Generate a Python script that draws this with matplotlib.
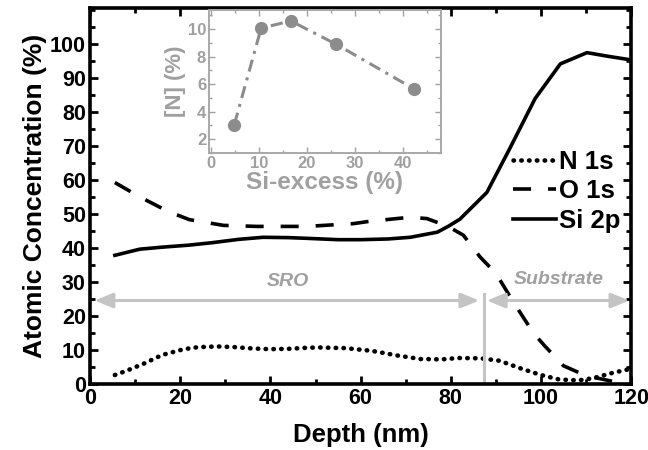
import matplotlib
matplotlib.use("Agg")
import matplotlib.pyplot as plt
from matplotlib.ticker import MultipleLocator

plt.rcParams['font.family'] = ['Liberation Sans', 'DejaVu Sans']
plt.rcParams['font.weight'] = 'bold'

# Main profile data
n_depth = [5.5, 8, 12, 16, 20.8, 24, 28.3, 32, 36, 40, 44, 48, 50.8, 56.7, 62.5, 68.3, 73.3, 78, 81.7, 86.7, 90.8, 95.8, 100, 104, 108.3, 111.7, 115.8, 119.2]
n_conc = [2.6, 3.8, 6.0, 8.5, 10.2, 10.8, 11.0, 10.8, 10.4, 10.2, 10.3, 10.6, 10.7, 10.5, 9.7, 8.3, 7.3, 7.2, 7.6, 7.5, 6.8, 4.4, 2.6, 1.3, 1.0, 1.7, 3.2, 4.2]

o_depth = [5.5, 11, 17.3, 22, 29.6, 37, 48, 58.3, 62, 71, 74.7, 79.4, 82.8, 86.5, 90, 94, 98.3, 100.8, 105, 110, 116]
o_conc = [59.2, 55.0, 50.7, 48.3, 46.6, 46.3, 46.3, 47.1, 47.8, 49.0, 48.6, 46.3, 43.7, 37.3, 32.5, 23.8, 15.0, 11.2, 5.3, 2.4, 0.7]

si_depth = [5.5, 11, 16, 22, 27, 33, 38.4, 44, 48, 55, 60, 66, 71, 77, 79.4, 82, 88, 93, 98.7, 104.3, 110.2, 115, 119.8]
si_conc = [37.8, 39.6, 40.2, 40.8, 41.5, 42.5, 43.1, 43.0, 42.8, 42.4, 42.4, 42.6, 43.1, 44.6, 46.3, 48.4, 56.3, 69.0, 83.9, 94.1, 97.4, 96.3, 95.3]

series_labels = ['N 1s', 'O 1s', 'Si 2p']

# Inset data
si_excess = [4.8, 10.4, 16.6, 26.1, 42.4]
n_percent = [3.07, 10.07, 10.6, 8.9, 5.65]

fig = plt.figure(figsize=(6.48, 4.5), dpi=100)
ax = fig.add_axes([0.139, 0.147, 0.835, 0.835])

ax.plot(n_depth, n_conc, color='black', lw=3.3, linestyle=(0, (0.1, 1.6)), dash_capstyle='round', label=series_labels[0])
ax.plot(o_depth, o_conc, color='black', lw=2.6, linestyle=(0, (5, 4.7)), label=series_labels[1])
ax.plot(si_depth, si_conc, color='black', lw=2.6, label=series_labels[2])

ax.set_xlim(0, 120)
ax.set_ylim(0, 110.5)
ax.set_yticks(range(0, 101, 10))
ax.xaxis.set_major_locator(MultipleLocator(20))
ax.xaxis.set_minor_locator(MultipleLocator(10))
ax.yaxis.set_minor_locator(MultipleLocator(5))
ax.tick_params(which='both', direction='in', top=True, right=True, labelsize=15.5, width=2)
ax.tick_params(which='major', length=6, pad=3)
ax.tick_params(which='minor', length=3.5)
for lbl in ax.get_xticklabels() + ax.get_yticklabels():
    lbl.set_fontweight('bold')
for s in ax.spines.values():
    s.set_linewidth(2.6)
ax.set_xlabel('Depth (nm)', fontsize=18.5, fontweight='bold', labelpad=10)
ax.set_ylabel('Atomic Concentration (%)', fontsize=19, fontweight='bold', labelpad=2)

# Region annotations
gray = '#c4c4c4'
ax.annotate('', xy=(1.0, 24.5), xytext=(86.3, 24.5),
            arrowprops=dict(arrowstyle='<|-|>,head_length=1.1,head_width=0.45', color=gray, lw=2.2, shrinkA=0, shrinkB=0))
ax.annotate('', xy=(88.0, 24.5), xytext=(119.6, 24.5),
            arrowprops=dict(arrowstyle='<|-|>,head_length=1.1,head_width=0.45', color=gray, lw=2.2, shrinkA=0, shrinkB=0))
ax.plot([87.3, 87.3], [0, 26.4], color=gray, lw=2.2)
ax.text(43.8, 30.2, 'SRO', color='#a0a0a0', fontsize=14, fontweight='bold', style='italic', ha='center', va='center')
ax.text(104, 30.6, 'Substrate', color='#a0a0a0', fontsize=14, fontweight='bold', style='italic', ha='center', va='center')

leg = ax.legend(loc='center right', bbox_to_anchor=(1.0, 0.512), frameon=False, fontsize=18.5,
                handlelength=1.65, handletextpad=0.15, labelspacing=0.22, borderaxespad=0)
for t in leg.get_texts():
    t.set_fontweight('bold')

# Inset
igray = '#8c8c8c'
ia = fig.add_axes([0.3225, 0.66, 0.358, 0.318])
ia.plot(si_excess, n_percent, color=igray, lw=2.2, linestyle=(0, (4, 2, 1, 2)),
        marker='o', markersize=8.5, markerfacecolor=igray, markeredgecolor=igray)
ia.set_xlim(-0.5, 48)
ia.set_ylim(1, 11.4)
ia.xaxis.set_major_locator(MultipleLocator(10))
ia.xaxis.set_minor_locator(MultipleLocator(5))
ia.yaxis.set_minor_locator(MultipleLocator(1))
ia.set_yticks([2, 4, 6, 8, 10])
ia.tick_params(which='both', direction='in', top=True, right=True, color='#a0a0a0',
               labelcolor='#a0a0a0', labelsize=12, width=1, pad=2)
ia.tick_params(which='major', length=4)
ia.tick_params(which='minor', length=2.5)
for lbl in ia.get_xticklabels() + ia.get_yticklabels():
    lbl.set_fontweight('bold')
for s in ia.spines.values():
    s.set_color('#a8a8a8')
    s.set_linewidth(1.4)
ia.set_xlabel('Si-excess (%)', fontsize=17.5, fontweight='bold', color='#a0a0a0', labelpad=0)
ia.set_ylabel('[N] (%)', fontsize=16, fontweight='bold', color='#a0a0a0', labelpad=1)

fig.savefig('out.png', dpi=100)
